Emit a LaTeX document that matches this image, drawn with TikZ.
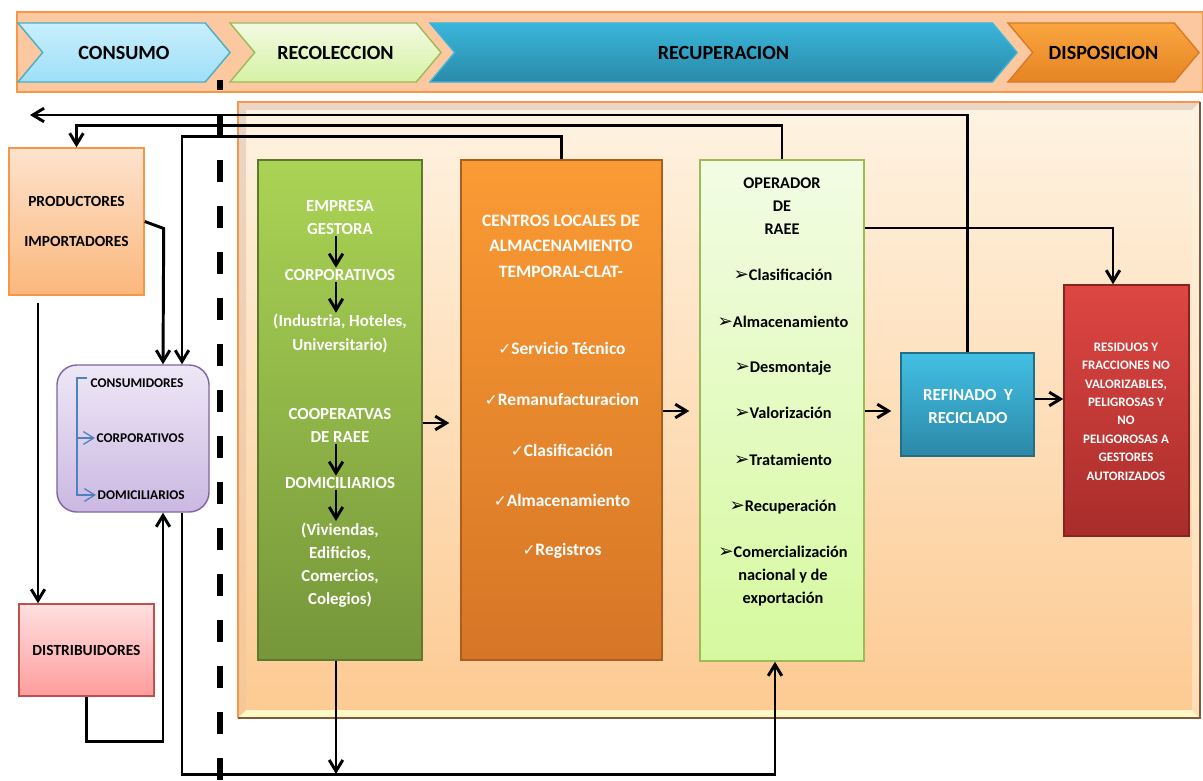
\documentclass[tikz,border=0pt]{standalone}
\usepackage{fontspec}
\setmainfont{Carlito}
\newfontfamily\symfont{DejaVu Sans}
\usepackage{tikz}
\usetikzlibrary{arrows.meta,shapes.symbols}
\definecolor{bandFill}{HTML}{FBC8A0}
\definecolor{bandLine}{HTML}{F79646}
\definecolor{consTop}{HTML}{C8EFFC}
\definecolor{consBot}{HTML}{9EDFF8}
\definecolor{consLine}{HTML}{4BACC6}
\definecolor{recoTop}{HTML}{F2FAE2}
\definecolor{recoBot}{HTML}{D6F2A4}
\definecolor{recoLine}{HTML}{9BBB59}
\definecolor{recuTop}{HTML}{3AB6DA}
\definecolor{recuBot}{HTML}{2A8AAA}
\definecolor{dispTop}{HTML}{FAA640}
\definecolor{dispBot}{HTML}{E58422}
\definecolor{dispLine}{HTML}{D97A2A}
\definecolor{panelLine}{HTML}{7F5A3A}
\definecolor{panelTop}{HTML}{FEF3E2}
\definecolor{panelBot}{HTML}{FDCA92}
\definecolor{bevelTop}{HTML}{E9D6C6}
\definecolor{bevelLeft}{HTML}{F6C896}
\definecolor{bevelBot}{HTML}{FFF7C6}
\definecolor{bevelRight}{HTML}{FEDDB4}
\definecolor{prodTop}{HTML}{FDE3CD}
\definecolor{prodBot}{HTML}{FBB77C}
\definecolor{purTop}{HTML}{EDE7F6}
\definecolor{purBot}{HTML}{CBB8E2}
\definecolor{purLine}{HTML}{8064A2}
\definecolor{bracketBlue}{HTML}{4F81BD}
\definecolor{distTop}{HTML}{FFE0E0}
\definecolor{distBot}{HTML}{FF9C9C}
\definecolor{distLine}{HTML}{C0504D}
\definecolor{gestTop}{HTML}{AAD455}
\definecolor{gestBot}{HTML}{76963A}
\definecolor{clatTop}{HTML}{FA9B34}
\definecolor{clatBot}{HTML}{D67526}
\definecolor{operTop}{HTML}{F2FCE4}
\definecolor{operBot}{HTML}{D6F99E}
\definecolor{refiTop}{HTML}{42C0E4}
\definecolor{refiBot}{HTML}{2C88A8}
\definecolor{residTop}{HTML}{DE4642}
\definecolor{residBot}{HTML}{A82D2B}
\tikzset{%
  >={Straight Barb[length=2.8mm,width=3.4mm]},
  % Specifications for style of nodes:
          stage/.style = {shape=signal, signal from=west, signal to=east,
                          signal pointer angle=100, minimum height=1.475cm,
                          inner sep=0pt, line width=1pt,
                          font=\fontsize{14.3}{17}\selectfont\bfseries},
   stageConsumo/.style = {stage, top color=consTop, bottom color=consBot, draw=consLine},
      stageReco/.style = {stage, top color=recoTop, bottom color=recoBot, draw=recoLine},
      stageRecu/.style = {stage, top color=recuTop, bottom color=recuBot, draw=recuTop},
      stageDisp/.style = {stage, top color=dispTop, bottom color=dispBot, draw=dispLine},
        bandBox/.style = {fill=bandFill, draw=bandLine, line width=1pt},
           base/.style = {rectangle, inner sep=0pt, align=center, line width=1pt},
        prodBox/.style = {base, top color=prodTop, bottom color=prodBot, draw=bandLine,
                          font=\fontsize{11}{29}\selectfont\bfseries},
        distBox/.style = {base, top color=distTop, bottom color=distBot, draw=distLine,
                          font=\fontsize{11}{13}\selectfont\bfseries},
        consBox/.style = {base, rounded corners=0.5cm, top color=purTop,
                          bottom color=purBot, draw=purLine},
       consText/.style = {inner sep=1pt, anchor=west, font=\fontsize{9.5}{11}\selectfont\bfseries},
        gestBox/.style = {base, top color=gestTop, bottom color=gestBot, draw=gestBot!80!black},
        clatBox/.style = {base, top color=clatTop, bottom color=clatBot, draw=clatBot!80!black},
        operBox/.style = {base, top color=operTop, bottom color=operBot, draw=recoLine},
        refiBox/.style = {base, top color=refiTop, bottom color=refiBot, draw=refiBot!80!black},
       residBox/.style = {base, top color=residTop, bottom color=residBot, draw=residBot!80!black},
       gestText/.style = {align=center, inner sep=1pt, text=white,
                          font=\fontsize{12}{16.4}\selectfont\bfseries},
       clatText/.style = {align=center, inner sep=1pt, text=white,
                          font=\fontsize{12.4}{18.1}\selectfont\bfseries},
       operText/.style = {align=center, inner sep=1pt,
                          font=\fontsize{11.6}{16.4}\selectfont\bfseries},
       refiText/.style = {align=center, inner sep=1pt, text=white,
                          font=\fontsize{12}{16.4}\selectfont\bfseries},
      residText/.style = {align=center, inner sep=1pt, text=white,
                          font=\fontsize{9.2}{13.1}\selectfont\bfseries},
           flow/.style = {draw=black, line width=2.1pt},
    bracketLine/.style = {draw=bracketBlue, line width=0.9pt,
                          >={Straight Barb[length=2.6mm,width=3.2mm]}},
        divider/.style = {line width=3.6pt, dash pattern=on 15.6pt off 17.1pt,
                          dash phase=8.5pt},
}
\newcommand{\chk}{{\symfont\fontsize{11}{11}\selectfont ✓}}
\newcommand{\tip}{{\symfont\fontsize{13}{13}\selectfont ➢}}
\begin{document}
\begin{tikzpicture}[x=0.025cm, y=-0.025cm]
  \useasboundingbox (0,0) rectangle (1203,781);
  % Band with the four stages
  \draw[bandBox] (17,12) rectangle (1203,92);
  \node (consumo)  [stageConsumo, minimum width=5.3cm]    at (124,52.5)    {CONSUMO};
  \node (recoleccion) [stageReco, minimum width=5.275cm]  at (335.5,52.5)  {RECOLECCION};
  \node (recuperacion) [stageRecu, minimum width=14.675cm] at (723.5,52.5) {RECUPERACION};
  \node (disposicion) [stageDisp, minimum width=4.775cm]  at (1103.5,52.5) {DISPOSICION};
  % Panel of the recovery chain, with its bevel
  \shade[top color=panelTop, bottom color=panelBot] (238,102) rectangle (1200,718);
  \fill[bevelTop] (238,102) -- (1200,102) -- (1192,110) -- (246,110) -- cycle;
  \shade[top color=bevelTop, bottom color=bevelLeft] (238,102) -- (246,110) -- (246,710)
        -- (238,718) -- cycle;
  \fill[bevelBot] (238,718) -- (246,710) -- (1192,710) -- (1200,718) -- cycle;
  \shade[top color=panelTop, bottom color=bevelRight] (1200,102) -- (1192,110) -- (1192,710)
        -- (1200,718) -- cycle;
  \draw[bandLine, line width=1pt] (238,718) -- (238,102) -- (1200,102);
  \draw[panelLine, line width=1.4pt] (1200,102) -- (1200,718) -- (238,718);
  % Specification of nodes (position, etc.)
  \node (prod)  [prodBox, minimum width=3.375cm, minimum height=3.675cm] at (76.5,221.5)
                                                        {PRODUCTORES\\IMPORTADORES};
  \node (cons)  [consBox, minimum width=3.8cm, minimum height=3.675cm]   at (133,438.5) {};
  \node (dist)  [distBox, minimum width=3.375cm, minimum height=2.3cm]   at (86.5,650)
                                                                   {DISTRIBUIDORES};
  \node (gest)  [gestBox, minimum width=4.1cm, minimum height=12.5cm]    at (340,410) {};
  \node (clat)  [clatBox, minimum width=5.025cm, minimum height=12.5cm]  at (561.5,410) {};
  \node (oper)  [operBox, minimum width=4.1cm, minimum height=12.525cm]  at (782,410.5) {};
  \node (refi)  [refiBox, minimum width=3.325cm, minimum height=2.575cm] at (967.5,404.5) {};
  \node (resid) [residBox, minimum width=3.125cm, minimum height=6.275cm] at (1126.5,410.5) {};
  % Texts of the consumers
  \node (consName) [consText] at (89,383) {CONSUMIDORES};
  \node (consCorp) [consText] at (95,438) {CORPORATIVOS};
  \node (consDom)  [consText] at (96,495) {DOMICILIARIOS};
  \coordinate (brTop) at (87,378);
  \draw[bracketLine,->] (brTop) -- (brTop -| 77,0) |- (consDom.west);
  \draw[bracketLine,->] (consCorp.west -| 77,0) -- (consCorp.west);
  % Texts of the managing company
  \node (gestHead) [gestText] at (340,217.5) {EMPRESA\\GESTORA};
  \node (gestCorp) [gestText] at (340,275)   {CORPORATIVOS};
  \node (gestInd)  [gestText] at (340,333.5) {(Industria, Hoteles,\\Universitario)};
  \node (gestCoop) [gestText] at (340,425.5) {COOPERATVAS\\DE RAEE};
  \node (gestDom)  [gestText] at (340,483)   {DOMICILIARIOS};
  \node (gestViv)  [gestText] at (340,565)   {(Viviendas,\\Edificios,\\Comercios,\\Colegios)};
  \draw[flow,->] (gestHead.south -| 336,0) -- (gestCorp.north -| 336,0);
  \draw[flow,->] (gestCorp.south -| 336,0) -- (gestInd.north -| 336,0);
  \draw[flow,->] (gestCoop.south -| 336,0) -- (gestDom.north -| 336,0);
  \draw[flow,->] (gestDom.south -| 336,0)  -- (gestViv.north -| 336,0);
  % Texts of the local storage centres
  \node (clatHead)  [clatText] at (561,246) {CENTROS LOCALES DE\\ALMACENAMIENTO\\TEMPORAL-CLAT-};
  \node (clatServ)  [clatText] at (562,348) {\chk Servicio Técnico};
  \node (clatReman) [clatText] at (562,399) {\chk Remanufacturacion};
  \node (clatClas)  [clatText] at (562,450) {\chk Clasificación};
  \node (clatAlm)   [clatText] at (562,500) {\chk Almacenamiento};
  \node (clatReg)   [clatText] at (562,551) {\chk Registros};
  % Texts of the operator
  \node (operHead) [operText] at (782,206) {OPERADOR\\DE\\RAEE};
  \node (operClas) [operText] at (783,275) {\tip Clasificación};
  \node (operAlm)  [operText] at (783,322) {\tip Almacenamiento};
  \node (operDesm) [operText] at (783,368) {\tip Desmontaje};
  \node (operVal)  [operText] at (783,413) {\tip Valorización};
  \node (operTrat) [operText] at (783,460) {\tip Tratamiento};
  \node (operRec)  [operText] at (783,507) {\tip Recuperación};
  \node (operCom)  [operText] at (783,576) {\tip Comercialización\\nacional y de\\exportación};
  % Texts of the last two boxes
  \node (refiName)  [refiText]  at (968,406.5) {REFINADO~~Y\\RECICLADO};
  \node (residName) [residText] at (1126,411.5) {RESIDUOS Y\\FRACCIONES NO\\VALORIZABLES,\\
                                 PELIGROSAS Y\\NO\\PELIGOROSAS A\\GESTORES\\AUTORIZADOS};
  % Specification of lines between nodes specified above
  \coordinate (backArrow) at (30,115);
  \draw[flow,->] (refi.north) |- (backArrow);
  \draw[flow,->] (oper.north) -- ++(0,-34) -| (prod.north);
  \draw[flow,->] (clat.north) -- ++(0,-23) -| ([xshift=1.225cm]cons.north);
  \draw[flow,->] (prod.east) -- ++(19,7) -- ([xshift=0.75cm]cons.north);
  \draw[flow,->] (prod.south -| 38,0) ++(0,7) -- (dist.north -| 38,0);
  \draw[flow,->] (dist.south) -- ++(0,45) -| ([xshift=0.75cm]cons.south);
  \draw[flow,->] ([xshift=1.225cm]cons.south) -- ++(0,262) -| ([xshift=-0.175cm]oper.south);
  \coordinate (gestDown) at (336,774);
  \draw[flow,->] (gest.south -| gestDown) -- (gestDown);
  \draw[flow,->,shorten >=0.275cm] (gest.east |- 0,423) -- (clat.west |- 0,423);
  \draw[flow,->,shorten >=0.25cm]  (clat.east |- 0,411) -- (oper.west |- 0,411);
  \draw[flow,->,shorten >=0.225cm] (oper.east |- 0,411) -- (refi.west |- 0,411);
  \draw[flow,->] (refi.east |- 0,399) -- (resid.west |- 0,399);
  \draw[flow,->] (oper.east |- 0,228) -| (resid.north -| 1113,0);
  % Dashed border between consumption and collection
  \coordinate (divTop) at (220,80);
  \coordinate (divBot) at (220,781);
  \draw[divider] (divTop) -- (divBot);
\end{tikzpicture}
\end{document}
